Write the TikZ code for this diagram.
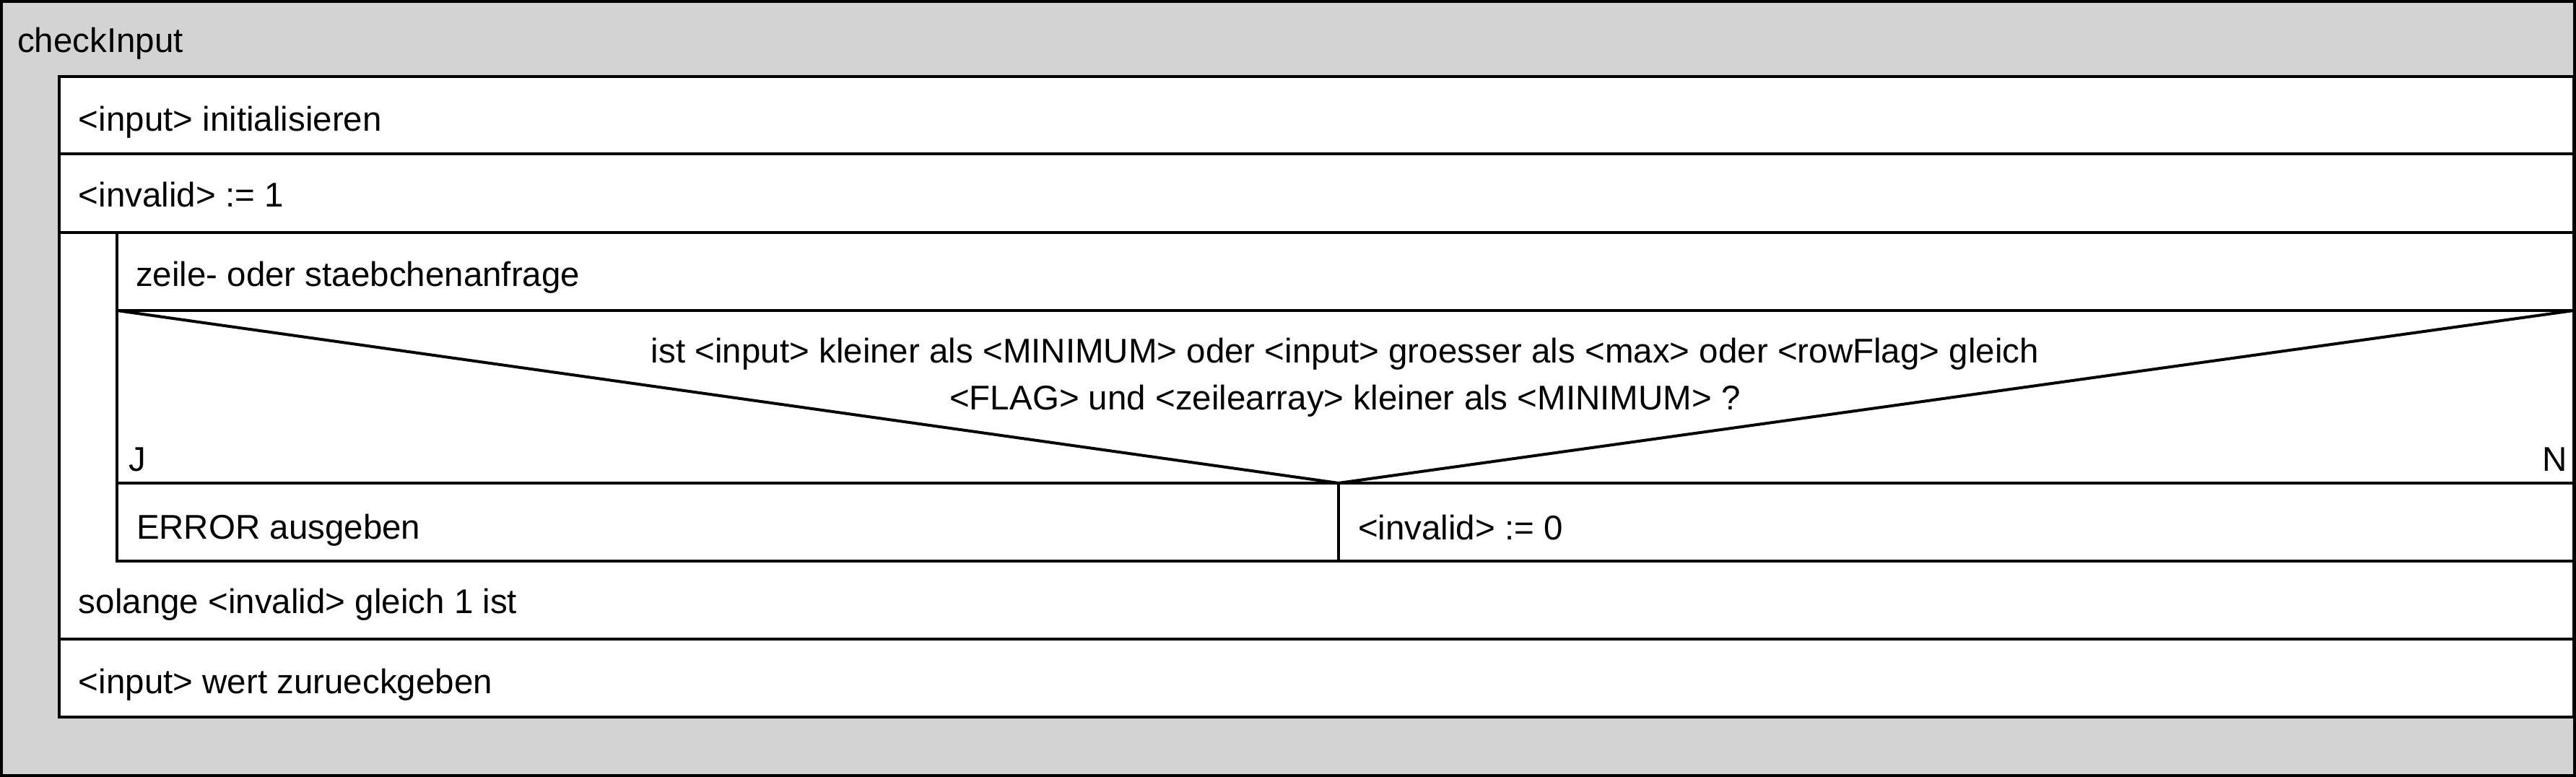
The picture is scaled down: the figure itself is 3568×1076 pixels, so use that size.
\documentclass[tikz,border=0pt]{standalone}
\usepackage{fontspec}
\setmainfont{Liberation Sans}
\definecolor{nsgray}{RGB}{211,211,211}
\tikzset{
  nsline/.style={line width=0.8pt, black},
  nstext/.style={inner sep=0pt, anchor=base west, font=\fontsize{9.5}{13}\selectfont},
  nsctext/.style={inner sep=0pt, anchor=base, font=\fontsize{9.5}{13}\selectfont},
  nsrtext/.style={inner sep=0pt, anchor=base east, font=\fontsize{9.5}{13}\selectfont}
}
\begin{document}
\begin{tikzpicture}[x=0.2pt, y=-0.2pt]
\useasboundingbox (0,0) rectangle (3568,1076);
% outer frame
\draw[nsline, fill=nsgray] (2,2) rectangle (3566,1074);
% inner body
\draw[nsline, fill=white] (82,106) rectangle (3565,993);
\draw[nsline] (82,213) -- (3565,213);
\draw[nsline] (82,322) -- (3565,322);
% loop body
\draw[nsline] (162,322) -- (162,777) -- (3565,777);
\draw[nsline] (162,430) -- (3565,430);
\draw[nsline] (162,669) -- (3565,669);
\draw[nsline] (162,430) -- (1854,669) -- (3565,430);
\draw[nsline] (1854,669) -- (1854,777);
\draw[nsline] (82,885) -- (3565,885);
% texts
\node[nstext] (title) at (23,73) {checkInput};
\node[nstext] (init) at (108,182) {<input> initialisieren};
\node[nstext] (inv1) at (108,287) {<invalid> := 1};
\node[nstext] (anfr) at (187,397) {zeile- oder staebchenanfrage};
\node[nsctext] (cond1) at (1863,503) {ist <input> kleiner als <MINIMUM> oder <input> groesser als <max> oder <rowFlag> gleich};
\node[nsctext] (cond2) at (1863,568) {<FLAG> und <zeilearray> kleiner als <MINIMUM> ?};
\node[nstext] (yes) at (177,653) {J};
\node[nsrtext] (no) at (3557,653) {N};
\node[nstext] (err) at (188,747) {ERROR ausgeben};
\node[nstext] (inv0) at (1880,748) {<invalid> := 0};
\node[nstext] (while) at (108,850) {solange <invalid> gleich 1 ist};
\node[nstext] (ret) at (108,960) {<input> wert zurueckgeben};
\end{tikzpicture}
\end{document}
